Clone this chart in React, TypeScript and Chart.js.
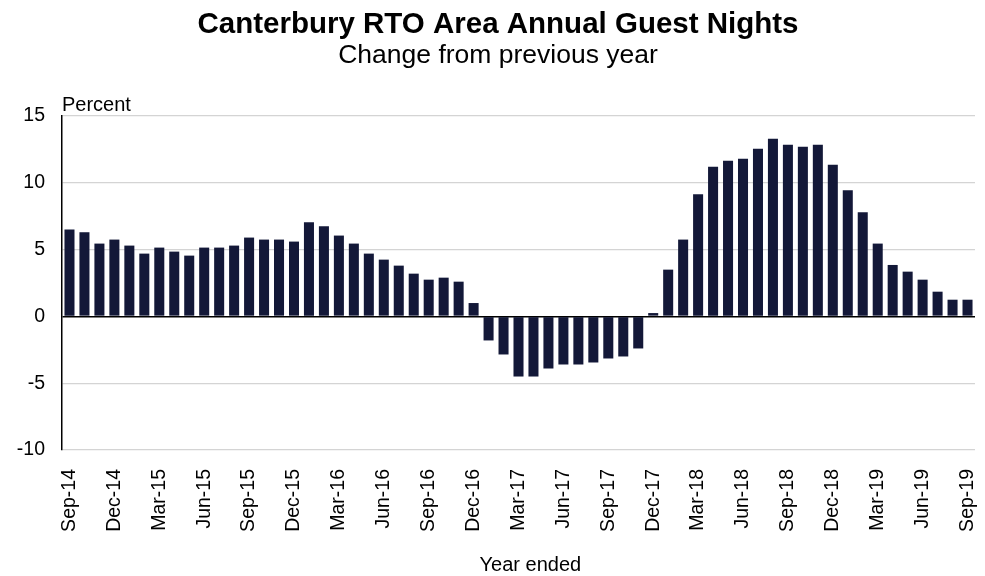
import React, { useEffect, useRef } from "react";
import { Chart, registerables } from "chart.js";

Chart.register(...registerables);

const categories: string[] = [
  "Sep-14", "Oct-14", "Nov-14", "Dec-14", "Jan-15", "Feb-15", "Mar-15", "Apr-15", "May-15", "Jun-15",
  "Jul-15", "Aug-15", "Sep-15", "Oct-15", "Nov-15", "Dec-15", "Jan-16", "Feb-16", "Mar-16", "Apr-16",
  "May-16", "Jun-16", "Jul-16", "Aug-16", "Sep-16", "Oct-16", "Nov-16", "Dec-16", "Jan-17", "Feb-17",
  "Mar-17", "Apr-17", "May-17", "Jun-17", "Jul-17", "Aug-17", "Sep-17", "Oct-17", "Nov-17", "Dec-17",
  "Jan-18", "Feb-18", "Mar-18", "Apr-18", "May-18", "Jun-18", "Jul-18", "Aug-18", "Sep-18", "Oct-18",
  "Nov-18", "Dec-18", "Jan-19", "Feb-19", "Mar-19", "Apr-19", "May-19", "Jun-19", "Jul-19", "Aug-19",
  "Sep-19",
];

const guestNightsChange: number[] = [
  6.5, 6.3, 5.45, 5.75, 5.3, 4.7, 5.15, 4.85, 4.55, 5.15,
  5.15, 5.3, 5.9, 5.75, 5.75, 5.6, 7.05, 6.75, 6.05, 5.45,
  4.7, 4.25, 3.8, 3.2, 2.75, 2.9, 2.6, 1.0, -1.8, -2.85,
  -4.5, -4.5, -3.9, -3.6, -3.6, -3.45, -3.15, -3.0, -2.4, 0.25,
  3.5, 5.75, 9.15, 11.2, 11.65, 11.8, 12.55, 13.3, 12.85, 12.7,
  12.85, 11.35, 9.45, 7.8, 5.45, 3.85, 3.35, 2.75, 1.85, 1.25,
  1.25,
];

const yTicks: number[] = [-10, -5, 0, 5, 10, 15];

const titleText = "Canterbury RTO Area Annual Guest Nights";
const subtitleText = "Change from previous year";
const yUnitText = "Percent";
const xTitleText = "Year ended";

const FONT = "'Liberation Sans', Arial, sans-serif";

const extraTextPlugin = {
  id: "extraText",
  afterDraw(chart: any) {
    const { ctx, chartArea } = chart;
    ctx.save();
    ctx.fillStyle = "#000";
    ctx.textBaseline = "alphabetic";
    ctx.textAlign = "center";
    ctx.font = `bold 29.5px ${FONT}`;
    ctx.fillText(titleText, 498, 33);
    ctx.font = `26.5px ${FONT}`;
    ctx.fillText(subtitleText, 498, 63);
    ctx.font = `20px ${FONT}`;
    ctx.textAlign = "left";
    ctx.fillText(yUnitText, chartArea.left, chartArea.top - 5);
    ctx.textAlign = "center";
    ctx.textBaseline = "middle";
    ctx.fillText(xTitleText, chartArea.left + (chartArea.right - chartArea.left) * 0.513, 565);
    ctx.restore();
  },
};

export default function App() {
  const canvasRef = useRef<HTMLCanvasElement | null>(null);

  useEffect(() => {
    if (!canvasRef.current) return;
    const chart = new Chart(canvasRef.current, {
      type: "bar",
      data: {
        labels: categories,
        datasets: [
          {
            data: guestNightsChange,
            backgroundColor: "#131838",
            borderWidth: 0,
            categoryPercentage: 1,
            barPercentage: 0.67,
          },
        ],
      },
      options: {
        animation: false,
        responsive: false,
        layout: { padding: { left: 0, right: 10, top: 116, bottom: 0 } },
        plugins: {
          legend: { display: false },
          tooltip: { enabled: false },
          title: { display: false },
          subtitle: { display: false },
        },
        scales: {
          x: {
            grid: { display: false },
            border: { display: false },
            ticks: {
              autoSkip: false,
              maxRotation: 90,
              minRotation: 90,
              padding: 11,
              color: "#000",
              font: { family: FONT, size: 19.5 },
              callback: (_v: any, i: number) => (i % 3 === 0 ? categories[i] : ""),
            },
            afterFit: (scale: any) => {
              scale.height = 126;
              scale.paddingLeft = 0;
              scale.paddingRight = 0;
            },
          },
          y: {
            min: yTicks[0],
            max: yTicks[yTicks.length - 1],
            afterBuildTicks: (scale: any) => {
              scale.ticks = yTicks.map((v) => ({ value: v }));
            },
            grid: {
              drawTicks: false,
              color: (c: any) => (c.tick && c.tick.value === 0 ? "#000" : "#d4d4d4"),
              lineWidth: (c: any) => (c.tick && c.tick.value === 0 ? 1.5 : 1.2),
            },
            border: { display: true, color: "#000", width: 1.5 },
            ticks: {
              padding: 17,
              color: "#000",
              font: { family: FONT, size: 19.5 },
            },
            afterFit: (scale: any) => {
              scale.width = 62;
              scale.paddingTop = 0;
            },
          },
        },
      },
      plugins: [extraTextPlugin],
    });
    return () => chart.destroy();
  }, []);

  return (
    <div style={{ position: "fixed", left: 0, top: 0, width: 985, height: 576, background: "#fff" }}>
      <canvas ref={canvasRef} width={985} height={576} />
    </div>
  );
}
